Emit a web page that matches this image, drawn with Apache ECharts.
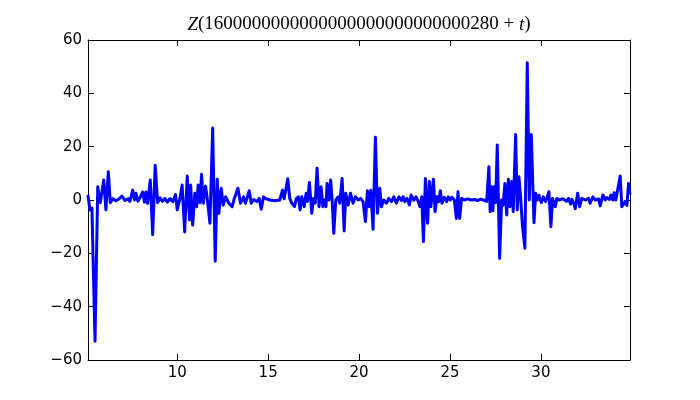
<!DOCTYPE html>
<html>
<head>
<meta charset="utf-8">
<script src="https://cdn.jsdelivr.net/npm/echarts@6/dist/echarts.min.js"></script>
<style>html,body{margin:0;padding:0;background:#fff;}#c{width:700px;height:400px;}</style>
</head>
<body>
<div id="c"></div>
<script>
// t values
const tVals = [
5.09,5.20,5.31,5.48,5.63,5.77,5.96,6.08,6.21,6.32,6.47,6.63,6.80,6.96,7.13,7.30,7.40,7.55,7.65,7.73,
7.84,7.95,8.10,8.20,8.28,8.37,8.52,8.65,8.79,8.92,9.05,9.19,9.32,9.46,9.60,9.76,9.91,10.00,10.15,10.27,
10.41,10.55,10.68,10.74,10.85,10.97,11.07,11.15,11.25,11.34,11.43,11.56,11.66,11.80,11.95,12.09,12.20,12.29,12.42,12.53,
12.66,12.84,13.02,13.14,13.34,13.48,13.65,13.75,13.83,13.96,14.07,14.20,14.38,14.51,14.62,14.75,14.87,15.09,15.37,15.64,
15.79,15.88,16.08,16.19,16.30,16.45,16.55,16.66,16.76,16.85,16.98,17.09,17.16,17.27,17.40,17.49,17.59,17.69,17.80,17.91,
18.01,18.09,18.18,18.24,18.34,18.44,18.52,18.61,18.72,18.85,18.94,19.07,19.18,19.27,19.40,19.53,19.67,19.80,19.95,20.08,
20.22,20.35,20.46,20.55,20.65,20.77,20.90,21.01,21.14,21.23,21.36,21.51,21.63,21.78,21.91,22.05,22.20,22.33,22.42,22.51,
22.64,22.77,22.86,23.01,23.13,23.26,23.35,23.45,23.54,23.65,23.77,23.87,23.95,24.09,24.18,24.29,24.38,24.47,24.56,24.69,
24.82,24.91,25.02,25.11,25.24,25.35,25.44,25.53,25.64,25.79,25.97,26.15,26.34,26.52,26.69,26.85,27.02,27.14,27.21,27.29,
27.36,27.42,27.51,27.60,27.73,27.84,27.92,28.02,28.12,28.21,28.30,28.39,28.48,28.61,28.70,28.79,28.88,28.99,29.12,29.25,
29.36,29.47,29.62,29.71,29.80,29.89,30.02,30.13,30.26,30.44,30.55,30.64,30.79,30.88,31.02,31.21,31.41,31.52,31.63,31.70,
31.80,31.89,32.02,32.13,32.25,32.44,32.62,32.71,32.86,32.99,33.17,33.26,33.41,33.54,33.63,33.77,33.85,33.96,34.03,34.12,
34.21,34.36,34.45,34.54,34.63,34.73,34.82,34.90
];
// Z values
const zVals = [
1.9,-3.7,-3.0,-53,5,-1,7.5,-3.7,10.6,-1,0.5,-0.3,0.4,1.5,-0.2,0.5,-0.5,3.7,0,2.5,
-0.5,0.8,3,-0.8,3,-1.2,7.5,-13,13,-1,0.8,-0.5,0.6,-0.8,0.5,-0.6,2,-3.7,0.5,5.6,
-12,9,-7.5,5.6,-9.4,2.5,-2.5,5.6,-1,9.7,-1.2,5.2,0,-8.7,27,-23,7.8,-5,4.4,-1.9,
1.2,-1.2,-2.5,0.6,4.4,-1.2,1.2,-1.2,0.5,3.5,-1.2,0.2,-0.6,0.6,-3.5,1.2,0.5,0,-0.3,0,
3.7,0.5,8,0.5,-1.2,-2.5,0.6,1.2,-3.7,1.2,-2.5,2.5,-0.6,6.6,-5,0.6,-1.2,11.9,-2.5,5,
-2.5,0,-2.5,6.2,0,7.5,0,-12.5,0,1.2,-1.2,8.1,-11.6,2.5,-1.9,2.5,-1.2,1.2,0,0.6,
-0.6,-8.1,3.5,-2.5,3.7,-11,23.5,-5,4.4,-2.5,0,-1.2,0.6,-0.6,1.2,-1.2,1.2,-0.2,1.2,-0.6,
0.6,-1.9,1.9,-0.1,1.2,-0.6,-2.5,1.2,-15.6,8.1,-8.7,6.9,-2.5,7.8,-4.4,1.2,-0.6,3.5,-1.2,1,
-0.6,1.2,0,1,0,-6.9,3.1,-6.9,0.6,0,0.4,0,0.2,-0.2,0.3,0,-0.5,12.5,-4.4,5,
-4,5,-1,20.6,-21.9,0,-2,6.2,-5.6,7.8,-2.5,6.9,-4.4,24.6,-3.7,8.7,1.5,-10,-18.1,51.5,
0,24.6,-8.5,2.5,0,1.8,-1,1.2,-0.6,3.1,-10,0.6,-2.5,0.6,0,0.5,-0.5,0.6,-1.5,0.3,
-1.2,-3.3,2.5,-2.5,0.6,0,0.6,-1.2,1.2,0,0.4,-2.2,1.9,0,0.9,0.2,1.9,0,2.7,0,
0.6,9,-2.5,-3,-0.6,-2,6.2,2
];
const xTicks = [10, 15, 20, 25, 30];
const yTicks = [-60, -40, -20, 0, 20, 40, 60];
const titleNumber = '1600000000000000000000000000280';

const xMin = 5.094, xMax = 34.9;
const fmt = v => (v < 0 ? '\u2212' + (-v) : String(v));
const tickStyle = {color: '#000', width: 1};
const axisLine = {show: true, onZero: false, lineStyle: {color: '#000', width: 1}};

const chart = echarts.init(document.getElementById('c'), null, {renderer: 'canvas'});
chart.setOption({
  animation: false,
  backgroundColor: '#fff',
  title: {
    text: '{i|Z}(' + titleNumber + ' + {i|t})',
    left: 359,
    top: 15,
    padding: 0,
    textAlign: 'center',
    textStyle: {
      fontFamily: 'Liberation Serif',
      fontSize: 19,
      fontWeight: 'normal',
      color: '#000',
      rich: {
        i: {fontFamily: 'Liberation Serif', fontStyle: 'italic', fontSize: 19, color: '#000'}
      }
    }
  },
  grid: {left: 88, right: 70, top: 40, bottom: 40, containLabel: false},
  xAxis: [
    {
      type: 'value', min: xMin, max: xMax, position: 'bottom',
      axisLine: axisLine,
      axisTick: {show: true, inside: true, length: 6, customValues: xTicks, lineStyle: tickStyle},
      axisLabel: {show: true, customValues: xTicks, color: '#000', fontSize: 15, fontFamily: 'DejaVu Sans', margin: 6},
      splitLine: {show: false}
    },
    {
      type: 'value', min: xMin, max: xMax, position: 'top',
      axisLine: axisLine,
      axisTick: {show: true, inside: true, length: 6, customValues: xTicks, lineStyle: tickStyle},
      axisLabel: {show: false},
      splitLine: {show: false}
    }
  ],
  yAxis: [
    {
      type: 'value', min: -60, max: 60, interval: 20, position: 'left',
      axisLine: axisLine,
      axisTick: {show: true, inside: true, length: 6, lineStyle: tickStyle},
      axisLabel: {show: true, color: '#000', fontSize: 15, fontFamily: 'DejaVu Sans', margin: 6, formatter: fmt},
      splitLine: {show: false}
    },
    {
      type: 'value', min: -60, max: 60, interval: 20, position: 'right',
      axisLine: axisLine,
      axisTick: {show: true, inside: true, length: 6, lineStyle: tickStyle},
      axisLabel: {show: false},
      splitLine: {show: false}
    }
  ],
  series: [{
    type: 'line',
    xAxisIndex: 0, yAxisIndex: 0,
    data: tVals.map((t, i) => [t, zVals[i]]),
    showSymbol: false,
    symbol: 'none',
    clip: true,
    lineStyle: {color: '#0000ff', width: 3, join: 'round'},
    itemStyle: {color: '#0000ff'}
  }]
});
</script>
</body>
</html>
